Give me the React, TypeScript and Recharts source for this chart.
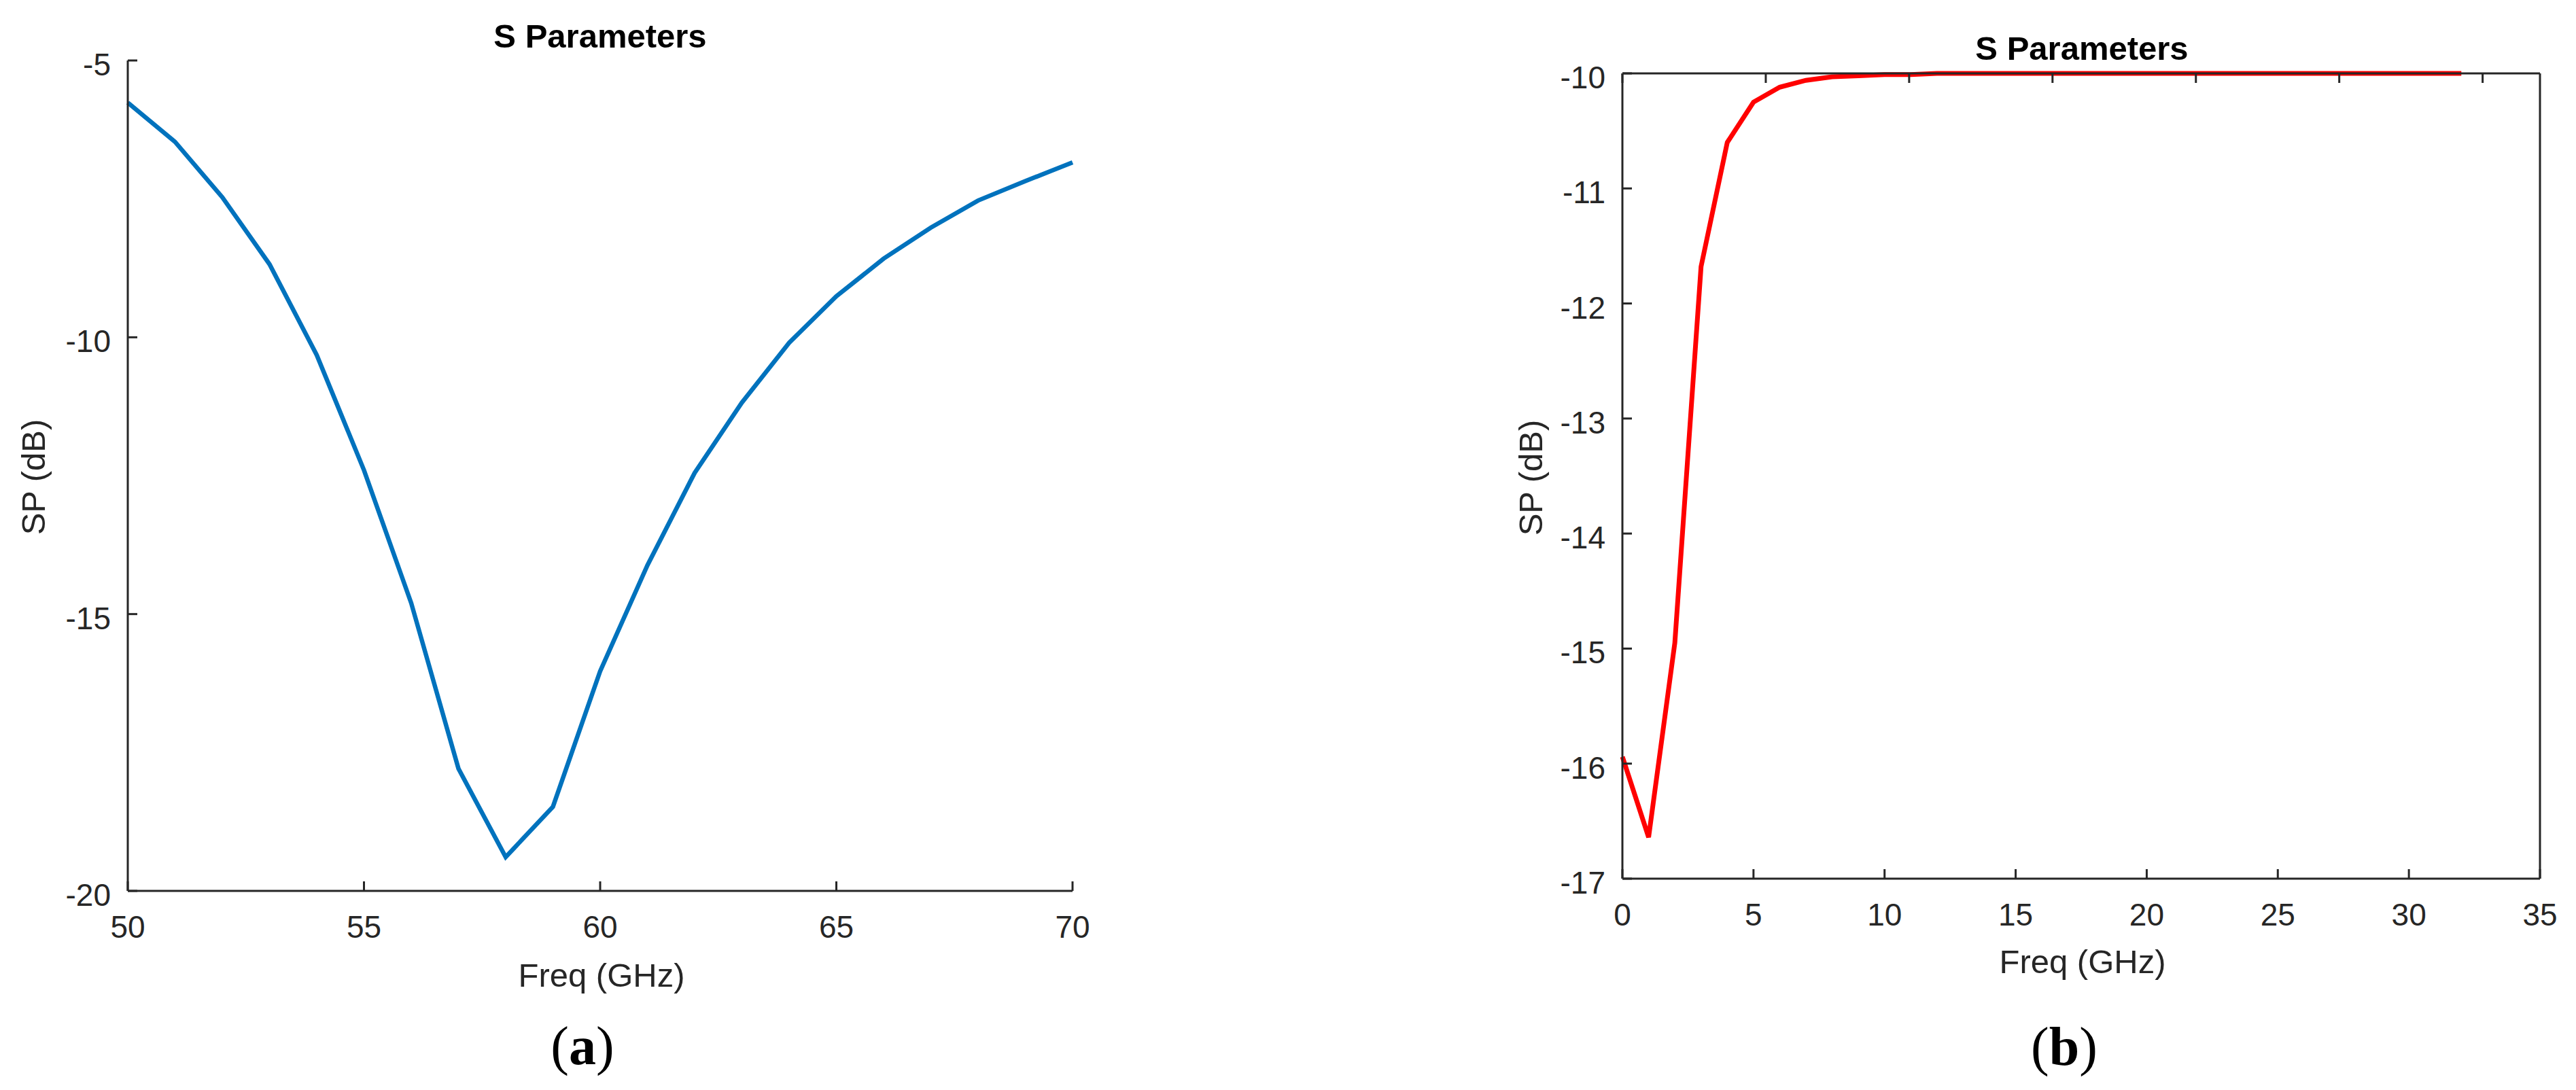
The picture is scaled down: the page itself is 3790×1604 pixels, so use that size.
import { LineChart, Line, XAxis, YAxis, Label } from "recharts"

// (a) 50-70 GHz sweep
const freqA = [50, 51, 52, 53, 54, 55, 56, 57, 58, 59, 60, 61, 62, 63, 64, 65, 66, 67, 68, 69, 70]
const spA = [-5.76, -6.47, -7.47, -8.68, -10.32, -12.4, -14.8, -17.79, -19.39, -18.48, -16.03, -14.12, -12.45, -11.18, -10.1, -9.26, -8.58, -8.02, -7.53, -7.18, -6.84]
const ticksAX = [50, 55, 60, 65, 70]
const ticksAY = [-20, -15, -10, -5]

// (b) 0-32 GHz sweep
const freqB = [0, 1, 2, 3, 4, 5, 6, 7, 8, 9, 10, 11, 12, 13, 14, 15, 16, 17, 18, 19, 20, 21, 22, 23, 24, 25, 26, 27, 28, 29, 30, 31, 32]
const spB = [-15.94, -16.64, -14.95, -11.68, -10.6, -10.25, -10.12, -10.06, -10.03, -10.02, -10.01, -10.01, -10.0, -10.0, -10.0, -10.0, -10.0, -10.0, -10.0, -10.0, -10.0, -10.0, -10.0, -10.0, -10.0, -10.0, -10.0, -10.0, -10.0, -10.0, -10.0, -10.0, -10.0]
const ticksBX = [0, 5, 10, 15, 20, 25, 30, 35]
const ticksBY = [-17, -16, -15, -14, -13, -12, -11, -10]

const dataA = freqA.map((f, i) => ({ f, sp: spA[i] }))
const dataB = freqB.map((f, i) => ({ f, sp: spB[i] }))

const AXIS = "#262626"
const SANS = "'Liberation Sans', Arial, Helvetica, sans-serif"
const SERIF = "'Liberation Serif', 'Times New Roman', serif"
const TICK_LEN = 14
const axisLine = { stroke: AXIS, strokeWidth: 3 }

// ticks are drawn inward, MATLAB style
const BottomTick = (p: any) => (
  <g>
    <line x1={p.x} y1={p.y} x2={p.x} y2={p.y - TICK_LEN} stroke={AXIS} strokeWidth={3} />
    <text x={p.x} y={p.y + 69} textAnchor="middle" fontSize={46} fontFamily={SANS} fill={AXIS}>
      {p.payload.value}
    </text>
  </g>
)

const LeftTick = (p: any) => (
  <g>
    <line x1={p.x} y1={p.y} x2={p.x + TICK_LEN} y2={p.y} stroke={AXIS} strokeWidth={3} />
    <text x={p.x - 25} y={p.y + 22} textAnchor="end" fontSize={46} fontFamily={SANS} fill={AXIS}>
      {p.payload.value}
    </text>
  </g>
)

const TopTick = (p: any) => (
  <line x1={p.x} y1={p.y} x2={p.x} y2={p.y + TICK_LEN} stroke={AXIS} strokeWidth={3} />
)

const RightTick = (p: any) => (
  <line x1={p.x} y1={p.y} x2={p.x - TICK_LEN} y2={p.y} stroke={AXIS} strokeWidth={3} />
)

const axisTitle = (x: number, y: number, text: string, rotate = false) => () => (
  <text
    x={x}
    y={y}
    textAnchor="middle"
    fontSize={49}
    fontFamily={SANS}
    fill={AXIS}
    transform={rotate ? `rotate(-90, ${x}, ${y})` : undefined}
  >
    {text}
  </text>
)

export default function App() {
  return (
    <div style={{ position: "absolute", left: 0, top: 0, width: 3790, height: 1604, background: "#fff", overflow: "hidden" }}>
      <div style={{ position: "absolute", left: 0, top: 0 }}>
        <LineChart width={1700} height={1604} data={dataA} margin={{ top: 89, right: 122, left: 0, bottom: 0 }}>
          <XAxis
            dataKey="f"
            type="number"
            domain={[50, 70]}
            ticks={ticksAX}
            interval={0}
            height={293}
            tickSize={0}
            tickMargin={0}
            tickLine={false}
            axisLine={axisLine}
            tick={BottomTick}
          >
            <Label content={axisTitle(885, 1452, "Freq (GHz)")} />
          </XAxis>
          <YAxis
            type="number"
            domain={[-20, -5]}
            ticks={ticksAY}
            interval={0}
            width={188}
            tickSize={0}
            tickMargin={0}
            tickLine={false}
            axisLine={axisLine}
            tick={LeftTick}
          >
            <Label content={axisTitle(66, 702, "SP (dB)", true)} />
          </YAxis>
          <Line type="linear" dataKey="sp" stroke="#0072BD" strokeWidth={6.5} dot={false} isAnimationActive={false} />
        </LineChart>
      </div>

      <div style={{ position: "absolute", left: 2200, top: 0 }}>
        <LineChart width={1590} height={1604} data={dataB} margin={{ top: 107, right: 52, left: 0, bottom: 0 }}>
          <XAxis
            dataKey="f"
            type="number"
            domain={[0, 35]}
            ticks={ticksBX}
            interval={0}
            height={311}
            tickSize={0}
            tickMargin={0}
            tickLine={false}
            axisLine={axisLine}
            tick={BottomTick}
          >
            <Label content={axisTitle(864, 1432, "Freq (GHz)")} />
          </XAxis>
          {/* top and right axes close the box */}
          <XAxis
            xAxisId="top"
            orientation="top"
            type="number"
            domain={[0, 35]}
            ticks={ticksBX}
            interval={0}
            height={1}
            tickSize={0}
            tickMargin={0}
            tickLine={false}
            axisLine={axisLine}
            tick={TopTick}
          />
          <YAxis
            type="number"
            domain={[-17, -10]}
            ticks={ticksBY}
            interval={0}
            width={187}
            tickSize={0}
            tickMargin={0}
            tickLine={false}
            axisLine={axisLine}
            tick={LeftTick}
          >
            <Label content={axisTitle(69, 703, "SP (dB)", true)} />
          </YAxis>
          <YAxis
            yAxisId="right"
            orientation="right"
            type="number"
            domain={[-17, -10]}
            ticks={ticksBY}
            interval={0}
            width={1}
            tickSize={0}
            tickMargin={0}
            tickLine={false}
            axisLine={axisLine}
            tick={RightTick}
          />
          <Line type="linear" dataKey="sp" stroke="#FF0000" strokeWidth={7} dot={false} isAnimationActive={false} />
        </LineChart>
      </div>

      <svg width={3790} height={1604} style={{ position: "absolute", left: 0, top: 0, pointerEvents: "none" }}>
        <text x={883} y={70} textAnchor="middle" fontSize={49} fontWeight="bold" fontFamily={SANS} fill="#000">
          S Parameters
        </text>
        <text x={3063} y={88} textAnchor="middle" fontSize={49} fontWeight="bold" fontFamily={SANS} fill="#000">
          S Parameters
        </text>
        <text x={857} y={1566} textAnchor="middle" fontSize={80} fontFamily={SERIF} fill="#000">
          (<tspan fontWeight="bold">a</tspan>)
        </text>
        <text x={3037} y={1567} textAnchor="middle" fontSize={80} fontFamily={SERIF} fill="#000">
          (<tspan fontWeight="bold">b</tspan>)
        </text>
      </svg>
    </div>
  )
}
